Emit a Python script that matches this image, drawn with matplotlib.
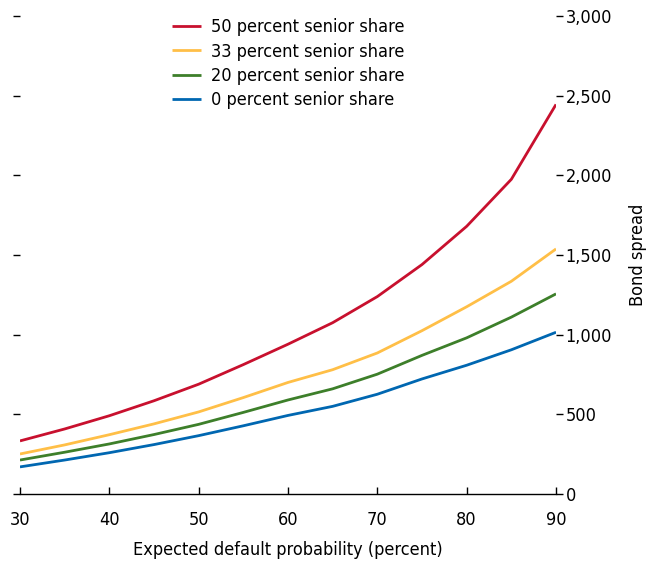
import matplotlib.pyplot as plt
from matplotlib.ticker import FuncFormatter

# Data
default_prob = [30, 35, 40, 45, 50, 55, 60, 65, 70, 75, 80, 85, 90]
senior_50 = [333, 408, 491, 585, 689, 812, 940, 1075, 1239, 1440, 1680, 1975, 2445]
senior_33 = [251, 308, 372, 440, 515, 605, 700, 780, 885, 1025, 1175, 1335, 1538]
senior_20 = [213, 262, 314, 373, 437, 512, 590, 660, 752, 870, 980, 1110, 1256]
senior_0 = [170, 213, 259, 310, 366, 428, 493, 550, 626, 722, 808, 905, 1015]
series_labels = ['50 percent senior share', '33 percent senior share',
                 '20 percent senior share', '0 percent senior share']
x_ticks = [30, 40, 50, 60, 70, 80, 90]
y_ticks = [0, 500, 1000, 1500, 2000, 2500, 3000]

plt.rcParams['font.family'] = ['DejaVu Sans']
plt.rcParams['font.stretch'] = 'condensed'

colors = ['#C8102E', '#FFBF47', '#3D7F2A', '#0067B1']

fig = plt.figure(figsize=(6.57, 5.63), dpi=100)
ax = fig.add_axes([0.0304, 0.1226, 0.8159, 0.849])

for vals, lab, col in zip([senior_50, senior_33, senior_20, senior_0], series_labels, colors):
    ax.plot(default_prob, vals, color=col, lw=2.0, label=lab, solid_capstyle='butt')

ax.set_xlim(30, 90)
ax.set_ylim(0, 3000)
ax.set_xticks(x_ticks)
ax.set_yticks(y_ticks)
ax.yaxis.set_major_formatter(FuncFormatter(lambda v, p: f'{int(v):,}'))

for s in ['top', 'left', 'right']:
    ax.spines[s].set_visible(False)
ax.spines['bottom'].set_linewidth(1.0)

ax.tick_params(axis='x', direction='in', length=5, width=1, labelsize=13, pad=12)
ax.tick_params(axis='y', direction='out', length=5, width=1, labelsize=13, pad=2,
               left=True, right=True, labelleft=False, labelright=True)

ax.set_xlabel('Expected default probability (percent)', fontsize=13, labelpad=9)
ax.yaxis.set_label_position('right')
ax.set_ylabel('Bond spread', fontsize=13, labelpad=12)

ax.legend(loc='upper left', bbox_to_anchor=(0.253, 1.029), frameon=False, fontsize=13,
          handlelength=1.6, labelspacing=0.35, handletextpad=0.55)

fig.savefig('out.png', dpi=100)
